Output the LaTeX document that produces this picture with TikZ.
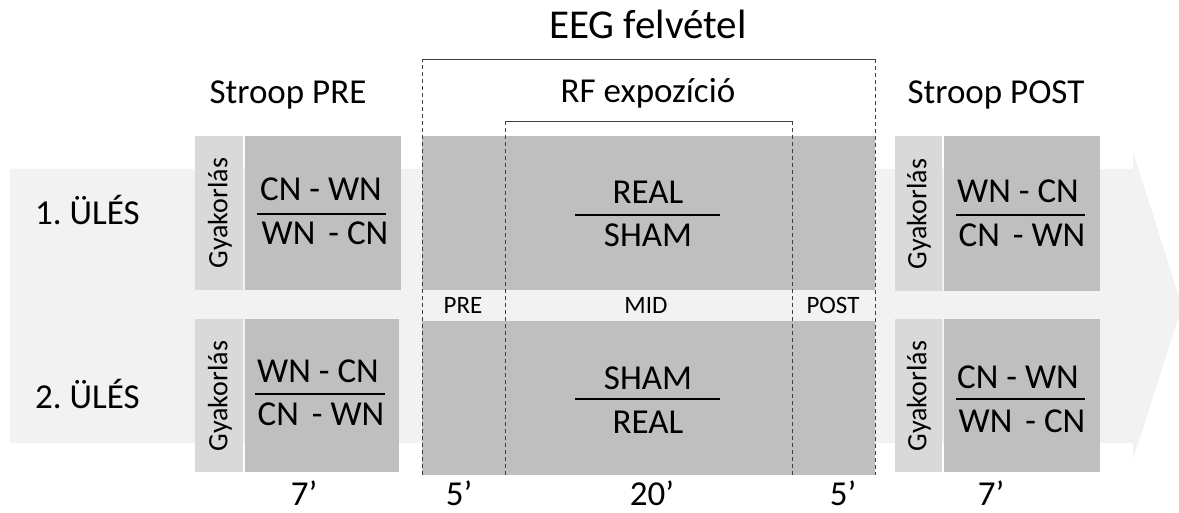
\documentclass[tikz,border=0pt]{standalone}
\usepackage{fontspec}
\setmainfont{Carlito}
\frenchspacing
\begin{document}
\begin{tikzpicture}[x=1pt,y=-1pt,
  txt/.style={inner sep=0pt,anchor=base,font=\fontsize{35}{40}\selectfont},
  small/.style={inner sep=0pt,anchor=base,font=\fontsize{25}{28}\selectfont},
  gyak/.style={inner sep=0pt,rotate=90,font=\fontsize{28}{32}\selectfont},
  frame/.style={draw=linegray,line width=0.9pt},
  dframe/.style={draw=linegray,line width=0.9pt,dash pattern=on 4pt off 3pt},
  rule/.style={draw=black,line width=1.3pt}]
\definecolor{arrowgray}{HTML}{F2F2F2}
\definecolor{boxdark}{HTML}{BFBFBF}
\definecolor{boxlight}{HTML}{D9D9D9}
\definecolor{linegray}{HTML}{404040}
\useasboundingbox (0,0) rectangle (1179,513);
% big arrow
\fill[arrowgray] (10,169) -- (1133,169) -- (1133,152) -- (1182,306) -- (1133,460) -- (1133,443) -- (10,443) -- cycle;
% middle block
\fill[boxdark] (422,136) rectangle (875,475);
\fill[arrowgray] (422,290) rectangle (875,321);
% left stroop boxes
\fill[boxlight] (195,136) rectangle (243,290);
\fill[boxdark] (245,136) rectangle (401,290);
\fill[boxlight] (195,319) rectangle (243,472);
\fill[boxdark] (245,319) rectangle (399,472);
% right stroop boxes
\fill[boxlight] (895,136) rectangle (942,291);
\fill[boxdark] (944,136) rectangle (1100,291);
\fill[boxlight] (895,319) rectangle (942,472);
\fill[boxdark] (944,319) rectangle (1100,472);
% EEG frame
\coordinate (eegA) at (422,475);
\coordinate (eegB) at (422,59);
\coordinate (eegC) at (875,59);
\coordinate (eegD) at (875,475);
\draw[frame] (eegB) -- (eegC);
\draw[dframe] (eegA) -- (eegB);
\draw[dframe] (eegC) -- (eegD);
% RF frame
\coordinate (rfA) at (505,475);
\coordinate (rfB) at (505,121);
\coordinate (rfC) at (792,121);
\coordinate (rfD) at (792,475);
\draw[frame] (rfB) -- (rfC);
\draw[dframe] (rfA) -- (rfB);
\draw[dframe] (rfC) -- (rfD);
% titles
\node[inner sep=0pt,anchor=base,font=\fontsize{41}{46}\selectfont] (eeg) at (648,39) {EEG felvétel};
\node[txt] (rf) at (648,103) {RF expozíció};
\node[txt] (spre) at (288,104) {Stroop PRE};
\node[txt] (spost) at (996,104) {Stroop POST};
% sessions
\node[txt,anchor=base west] (s1) at (35,225) {1. ÜLÉS};
\node[txt,anchor=base west] (s2) at (35,408) {2. ÜLÉS};
% gyakorlas
\node[gyak] (g1) at (220,213) {Gyakorlás};
\node[gyak] (g2) at (220,396) {Gyakorlás};
\node[gyak] (g3) at (919,214) {Gyakorlás};
\node[gyak] (g4) at (919,396) {Gyakorlás};
% left fractions
\node[txt] (l1a) at (321,201) {CN - WN};
\draw[rule] (257,214) -- (386,214);
\node[txt] (l1b) at (325,245) {WN\hspace{5pt} - CN};
\node[txt] (l2a) at (318,382) {WN - CN};
\draw[rule] (255,394) -- (385,394);
\node[txt] (l2b) at (321,425) {CN\hspace{5pt} - WN};
% right fractions
\node[txt] (r1a) at (1018,203) {WN - CN};
\draw[rule] (956,215) -- (1085,215);
\node[txt] (r1b) at (1022,247) {CN\hspace{5pt} - WN};
\node[txt] (r2a) at (1018,388) {CN - WN};
\draw[rule] (956,399) -- (1085,399);
\node[txt] (r2b) at (1022,432) {WN\hspace{5pt} - CN};
% middle fractions
\node[txt] (m1a) at (648,204) {REAL};
\draw[rule] (575,215) -- (720,215);
\node[txt] (m1b) at (648,247) {SHAM};
\node[txt] (m2a) at (648,389) {SHAM};
\draw[rule] (575,399) -- (720,399);
\node[txt] (m2b) at (648,433) {REAL};
% band labels
\node[small] (pre) at (463,313) {PRE};
\node[small] (mid) at (646,313) {MID};
\node[small] (post) at (833,313) {POST};
% durations
\node[txt] (d1) at (304,505) {7’};
\node[txt] (d2) at (459,505) {5’};
\node[txt] (d3) at (652,505) {20’};
\node[txt] (d4) at (843,505) {5’};
\node[txt] (d5) at (991,505) {7’};
\end{tikzpicture}
\end{document}
